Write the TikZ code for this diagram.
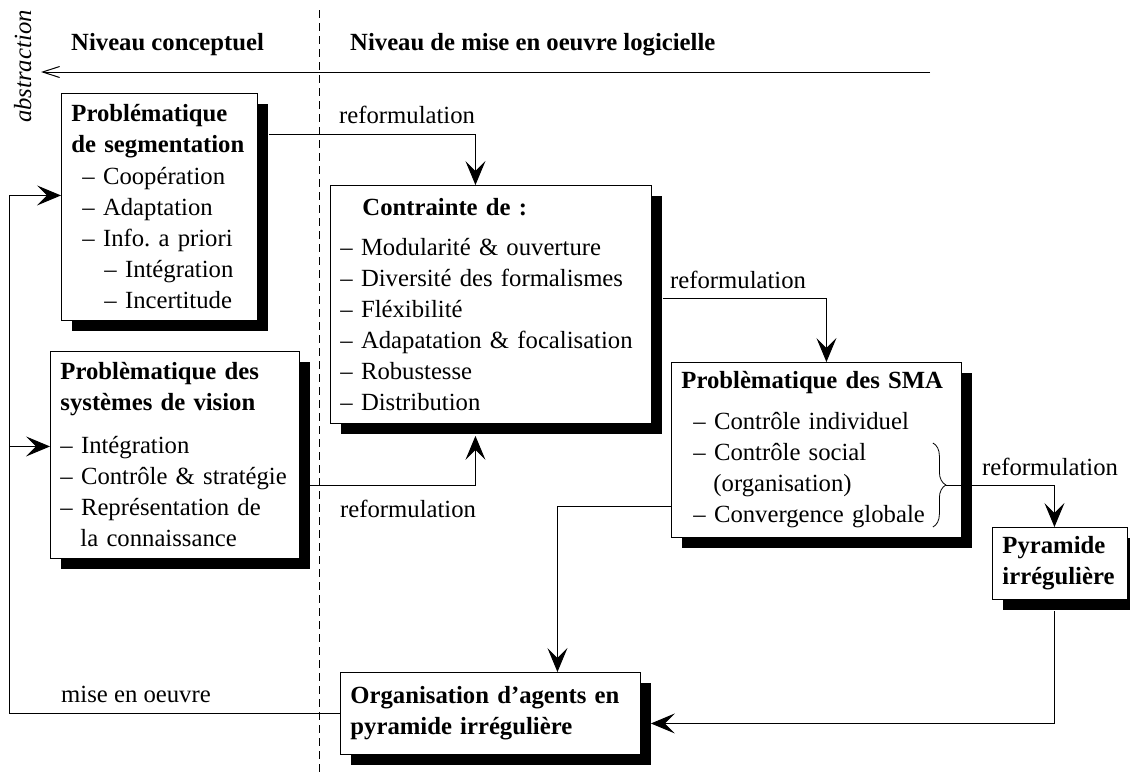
\documentclass[tikz,border=0pt]{standalone}
\usepackage{fontspec}
\setmainfont{Liberation Serif}[ItalicFont={Liberation Serif Italic},BoldFont={Liberation Serif Bold}]
\usetikzlibrary{arrows.meta,shadows,decorations.pathreplacing}
\newcommand\fsz{\fontsize{24.7}{31}\selectfont}
\begin{document}
\frenchspacing
\begin{tikzpicture}[x=1pt,y=1pt,
  every node/.style={font=\fsz},
  box/.style={draw, line width=0.9pt, fill=white, anchor=north west,
    inner xsep=10pt, inner ysep=0pt, align=left,
    drop shadow={shadow xshift=11pt, shadow yshift=-11pt, fill=black, opacity=1}},
  conn/.style={line width=1pt},
  arr/.style={conn, -{Stealth[length=24pt,width=20pt,inset=10pt]}},
  lbl/.style={anchor=base west, inner sep=0pt}]
\useasboundingbox (0,0) rectangle (1130,-772);

% dashed separator
\coordinate (dT) at (319,-10);
\coordinate (dB) at (319,-772);
\draw[line width=0.8pt, dash pattern=on 8pt off 5pt] (dT) -- (dB);

% headers
\node[lbl, font=\fsz\bfseries] (h1) at (71,-50) {Niveau conceptuel};
\node[lbl, font=\fsz\bfseries] (h2) at (350,-50) {Niveau de mise en oeuvre logicielle};

% abstraction arrow
\coordinate (aR) at (930,-72);
\coordinate (aL) at (41,-72);
\draw[conn, -{Straight Barb[length=17pt,width=11pt]}] (aR) -- (aL);
\node[lbl, rotate=90, font=\fsz\itshape] (abs) at (31,-123) {\textit{abstraction}};

% boxes
\node[box, text width=176pt, minimum width=196pt, minimum height=227pt] (seg) at (61,-93)
 {\mbox{\textbf{Problématique}}\\\mbox{\textbf{de segmentation}}\\[1pt]
  \mbox{\hspace*{11pt}– Coopération}\\\mbox{\hspace*{11pt}– Adaptation}\\
  \mbox{\hspace*{11pt}– Info.\ a priori}\\\mbox{\hspace*{33pt}– Intégration}\\
  \mbox{\hspace*{33pt}– Incertitude}};

\node[box, text width=301pt, minimum width=321pt, minimum height=238pt] (con) at (330,-185)
 {\mbox{\hspace*{22pt}\textbf{Contrainte de :}}\\[9pt]
  \mbox{– Modularité \& ouverture}\\\mbox{– Diversité des formalismes}\\
  \mbox{– Fléxibilité}\\\mbox{– Adapatation \& focalisation}\\
  \mbox{– Robustesse}\\\mbox{– Distribution}};

\node[box, text width=229pt, minimum width=249pt, minimum height=207pt] (vis) at (50,-351)
 {\mbox{\textbf{Problèmatique des}}\\\mbox{\textbf{systèmes de vision}}\\[12pt]
  \mbox{– Intégration}\\\mbox{– Contrôle \& stratégie}\\
  \mbox{– Représentation de}\\\mbox{\hspace*{20pt}la connaissance}};

\node[box, text width=270pt, minimum width=290pt, minimum height=175pt] (sma) at (671,-362)
 {\mbox{\textbf{Problèmatique des SMA}}\\[10pt]
  \mbox{\hspace*{12pt}– Contrôle individuel}\\\mbox{\hspace*{12pt}– Contrôle social}\\
  \mbox{\hspace*{32pt}(organisation)}\\\mbox{\hspace*{12pt}– Convergence globale}};

\node[box, text width=115pt, minimum width=135pt, minimum height=72pt] (pyr) at (992,-527)
 {\mbox{\textbf{Pyramide}}\\\mbox{\textbf{irrégulière}}};

\node[box, text width=280pt, minimum width=300pt, minimum height=82pt] (org) at (340,-672)
 {\mbox{\textbf{Organisation d’agents en}}\\\mbox{\textbf{pyramide irrégulière}}};

% connectors
\draw[arr] ([shift={(11,-41)}]seg.north east) -| ([xshift=-15.5]con.north);
\draw[arr] ([shift={(10,73)}]vis.south east) -| ([shift={(-15.5,-12)}]con.south);
\draw[arr] ([shift={(11,-113)}]con.north east) -| ([xshift=10]sma.north);

\draw[line width=0.8pt, decorate, decoration={brace, amplitude=13pt}]
  ([shift={(-29,-81)}]sma.north east) -- ([shift={(-29,-165)}]sma.north east);
\coordinate (bt) at ([shift={(-16,-123)}]sma.north east);
\draw[arr] (bt) -| ([xshift=-5.5]pyr.north);

\draw[arr] ([yshift=-56.5]sma.west) -| ([xshift=67]org.north);
\draw[arr] ([shift={(-5.5,-11)}]pyr.south) |- ([shift={(10,-10)}]org.east);

\coordinate (lx) at (9,0);
\coordinate (st) at ([yshift=11.5]seg.west);
\coordinate (vt) at ([yshift=8.5]vis.west);
\draw[arr] (org.west) -- (org.west -| lx) |- (st);
\draw[arr] (vt -| lx) -- (vt);

% labels
\node[lbl] (r1) at (339,-123) {reformulation};
\node[lbl] (r2) at (340,-517) {reformulation};
\node[lbl] (r3) at (670,-288) {reformulation};
\node[lbl] (r4) at (982,-475) {reformulation};
\node[lbl] (mo) at (61,-702) {mise en oeuvre};
\end{tikzpicture}
\end{document}
